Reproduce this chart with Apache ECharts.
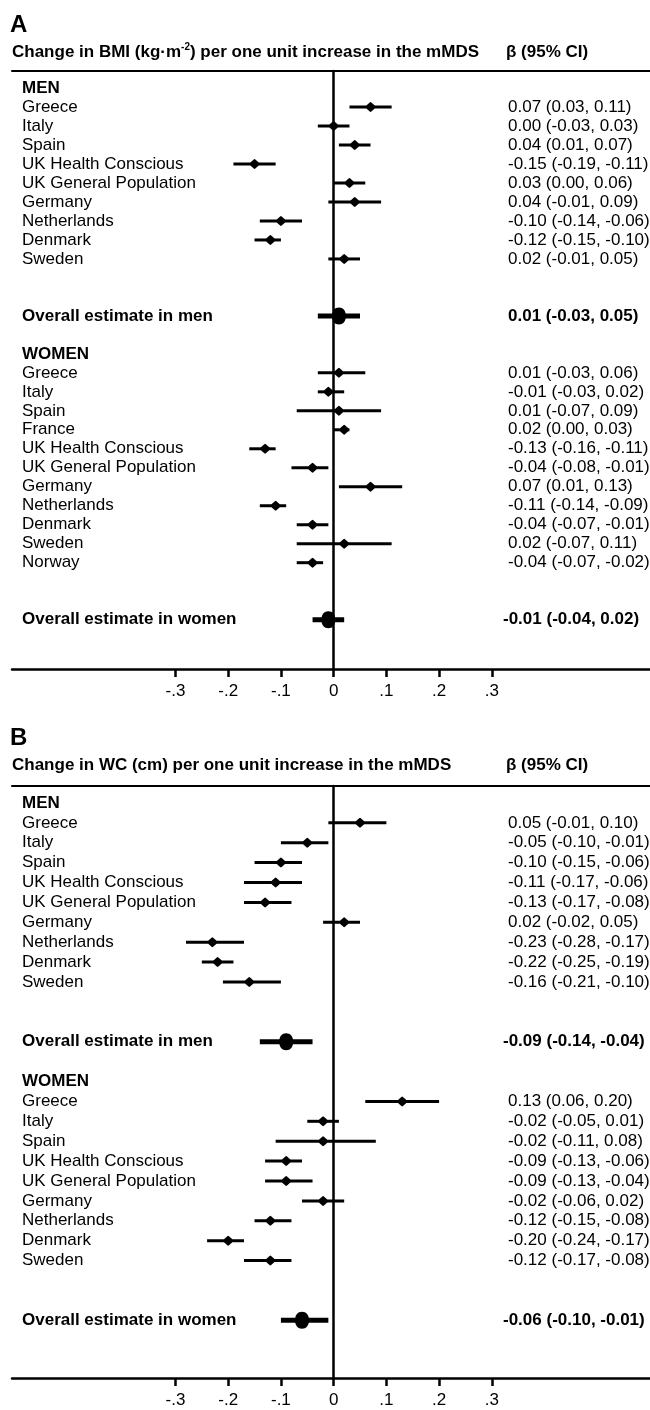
<!DOCTYPE html>
<html><head><meta charset="utf-8">
<script src="https://cdn.jsdelivr.net/npm/echarts@6/dist/echarts.min.js"></script>
<style>html,body{margin:0;padding:0;background:#fff}#c{width:650px;height:1410px}</style>
</head><body><div id="c"></div>
<script>
// ---------- DATA ----------
const tickValues = [-0.3, -0.2, -0.1, 0, 0.1, 0.2, 0.3];

// Panel A: BMI
const labelsA = ['MEN','Greece','Italy','Spain','UK Health Conscious','UK General Population','Germany','Netherlands','Denmark','Sweden','Overall estimate in men',
                 'WOMEN','Greece','Italy','Spain','France','UK Health Conscious','UK General Population','Germany','Netherlands','Denmark','Sweden','Norway','Overall estimate in women'];
const kindsA  = ['head','c','c','c','c','c','c','c','c','c','overall',
                 'head','c','c','c','c','c','c','c','c','c','c','c','overall'];
const estA  = [null, 0.07, 0.00, 0.04,-0.15, 0.03, 0.04,-0.10,-0.12, 0.02, 0.01,
               null, 0.01,-0.01, 0.01, 0.02,-0.13,-0.04, 0.07,-0.11,-0.04, 0.02,-0.04,-0.01];
const lowA  = [null, 0.03,-0.03, 0.01,-0.19, 0.00,-0.01,-0.14,-0.15,-0.01,-0.03,
               null,-0.03,-0.03,-0.07, 0.00,-0.16,-0.08, 0.01,-0.14,-0.07,-0.07,-0.07,-0.04];
const highA = [null, 0.11, 0.03, 0.07,-0.11, 0.06, 0.09,-0.06,-0.10, 0.05, 0.05,
               null, 0.06, 0.02, 0.09, 0.03,-0.11,-0.01, 0.13,-0.09,-0.01, 0.11,-0.02, 0.02];

// Panel B: WC
const labelsB = ['MEN','Greece','Italy','Spain','UK Health Conscious','UK General Population','Germany','Netherlands','Denmark','Sweden','Overall estimate in men',
                 'WOMEN','Greece','Italy','Spain','UK Health Conscious','UK General Population','Germany','Netherlands','Denmark','Sweden','Overall estimate in women'];
const kindsB  = ['head','c','c','c','c','c','c','c','c','c','overall',
                 'head','c','c','c','c','c','c','c','c','c','overall'];
const estB  = [null, 0.05,-0.05,-0.10,-0.11,-0.13, 0.02,-0.23,-0.22,-0.16,-0.09,
               null, 0.13,-0.02,-0.02,-0.09,-0.09,-0.02,-0.12,-0.20,-0.12,-0.06];
const lowB  = [null,-0.01,-0.10,-0.15,-0.17,-0.17,-0.02,-0.28,-0.25,-0.21,-0.14,
               null, 0.06,-0.05,-0.11,-0.13,-0.13,-0.06,-0.15,-0.24,-0.17,-0.10];
const highB = [null, 0.10,-0.01,-0.06,-0.06,-0.08, 0.05,-0.17,-0.19,-0.10,-0.04,
               null, 0.20, 0.01, 0.08,-0.06,-0.04, 0.02,-0.08,-0.17,-0.08,-0.01];

const titleA = 'A';
const titleB = 'B';
const headA = ['Change in BMI (kg·m', '-2', ') per one unit increase in the mMDS'];
const headB = ['Change in WC (cm) per one unit increase in the mMDS'];
const headCI = 'β (95% CI)';

// ---------- LAYOUT ----------
const FONT = '"Liberation Sans", Arial, Helvetica, sans-serif';
const FS = 17;
const X_MIN = -0.61, X_MAX = 0.60;
const panels = [
  {labels: labelsA, kinds: kindsA, est: estA, low: lowA, high: highA, top: 71, height: 598, yMin: -0.9, yPad: 2.6},
  {labels: labelsB, kinds: kindsB, est: estB, low: lowB, high: highB, top: 786, height: 592, yMin: -0.85, yPad: 2.9}
];

function buildRows(p) {
  let slot = -1;
  return p.labels.map((lab, i) => {
    const k = p.kinds[i];
    if (k === 'head') slot += (i === 0 ? 1 : 2);
    else if (k === 'overall') slot += 3;
    else slot += 1;
    return {label: lab, kind: k, slot, est: p.est[i], low: p.low[i], high: p.high[i]};
  });
}
const fmt = v => v.toFixed(2);
const tickFmt = v => {
  if (Math.abs(v) < 1e-9) return '0';
  return (v < 0 ? '-' : '') + '.' + Math.round(Math.abs(v) * 10);
};

const grids = [], xAxes = [], yAxes = [], series = [];
panels.forEach((p, pi) => {
  const rows = buildRows(p);
  const yMax = rows[rows.length - 1].slot + p.yPad;
  grids.push({left: 12, right: 0, top: p.top, height: p.height, containLabel: false});
  xAxes.push({
    gridIndex: pi, type: 'value', min: X_MIN, max: X_MAX, position: 'bottom',
    axisLine: {show: true, onZero: false, lineStyle: {color: '#000', width: 2.5}},
    axisTick: {show: true, customValues: tickValues, length: 8, lineStyle: {color: '#000', width: 2.5}},
    axisLabel: {show: true, customValues: tickValues, formatter: tickFmt, color: '#000', fontSize: FS, fontFamily: FONT, margin: 14},
    splitLine: {show: false}
  });
  xAxes.push({
    gridIndex: pi, type: 'value', min: X_MIN, max: X_MAX, position: 'top',
    axisLine: {show: true, onZero: false, lineStyle: {color: '#000', width: 2}},
    axisTick: {show: false}, axisLabel: {show: false}, splitLine: {show: false}
  });
  yAxes.push({
    gridIndex: pi, type: 'value', inverse: true, min: p.yMin, max: yMax,
    axisLine: {show: true, onZero: true, lineStyle: {color: '#000', width: 2.5}},
    axisTick: {show: false}, axisLabel: {show: false}, splitLine: {show: false}
  });
  series.push({
    type: 'custom', xAxisIndex: pi * 2, yAxisIndex: pi, clip: false,
    data: rows.map((r, i) => [r.est == null ? 0 : r.est, r.slot, i]),
    encode: {x: 0, y: 1},
    renderItem: (params, api) => {
      const r = rows[api.value(2)];
      const cs = params.coordSys;
      const y = api.coord([0, r.slot])[1];
      const bold = r.kind !== 'c';
      const children = [];
      children.push({type: 'text', style: {text: r.label, x: cs.x + 10, y: y, fill: '#000',
        font: (bold ? 'bold ' : '') + FS + 'px ' + FONT, verticalAlign: 'middle', align: 'left'}});
      if (r.est != null) {
        const pl = api.coord([r.low, r.slot]);
        const ph = api.coord([r.high, r.slot]);
        const pe = api.coord([r.est, r.slot]);
        const ov = r.kind === 'overall';
        children.push({type: 'line', shape: {x1: pl[0], y1: y, x2: ph[0], y2: y},
          style: {stroke: '#000', lineWidth: ov ? 5 : 3}});
        const hw = ov ? 7 : 5, hh = ov ? 8.5 : 5;
        children.push({type: 'polygon', shape: {points: [[pe[0], y - hh], [pe[0] + hw, y], [pe[0], y + hh], [pe[0] - hw, y]], smooth: ov ? 0.6 : 0.15},
          style: {fill: '#000'}});
        const txt = fmt(r.est) + ' (' + fmt(r.low) + ', ' + fmt(r.high) + ')';
        const tx = cs.x + 496 - (ov && r.est < 0 ? 5 : 0);
        children.push({type: 'text', style: {text: txt, x: tx, y: y, fill: '#000',
          font: (ov ? 'bold ' : '') + FS + 'px ' + FONT, verticalAlign: 'middle', align: 'left'}});
      }
      return {type: 'group', children};
    }
  });
});

function headerRich(parts) {
  if (parts.length === 1) return '{a|' + parts[0] + '}';
  return '{a|' + parts[0] + '}{s|' + parts[1] + '}{a|' + parts[2] + '}';
}
const richStyle = {
  a: {fontSize: FS, fontWeight: 'bold', fontFamily: FONT, color: '#000', lineHeight: 20},
  s: {fontSize: 10, fontWeight: 'bold', fontFamily: FONT, color: '#000', lineHeight: 20, padding: [0, 0, 9, 0]}
};

const titles = [
  {text: titleA, left: 10, top: 13, textStyle: {fontSize: 24, fontWeight: 'bold', fontFamily: FONT, color: '#000'}, padding: 0},
  {text: headerRich(headA), left: 12, top: 42, textStyle: {rich: richStyle}, padding: 0},
  {text: headCI, left: 506, top: 42, textStyle: {fontSize: FS, fontWeight: 'bold', fontFamily: FONT, color: '#000', lineHeight: 20}, padding: 0},
  {text: titleB, left: 10, top: 726, textStyle: {fontSize: 24, fontWeight: 'bold', fontFamily: FONT, color: '#000'}, padding: 0},
  {text: headerRich(headB), left: 12, top: 755, textStyle: {rich: richStyle}, padding: 0},
  {text: headCI, left: 506, top: 755, textStyle: {fontSize: FS, fontWeight: 'bold', fontFamily: FONT, color: '#000', lineHeight: 20}, padding: 0}
];

const chart = echarts.init(document.getElementById('c'), null, {renderer: 'canvas'});
chart.setOption({
  animation: false,
  backgroundColor: '#fff',
  title: titles,
  grid: grids,
  xAxis: xAxes,
  yAxis: yAxes,
  series
});
</script></body></html>
